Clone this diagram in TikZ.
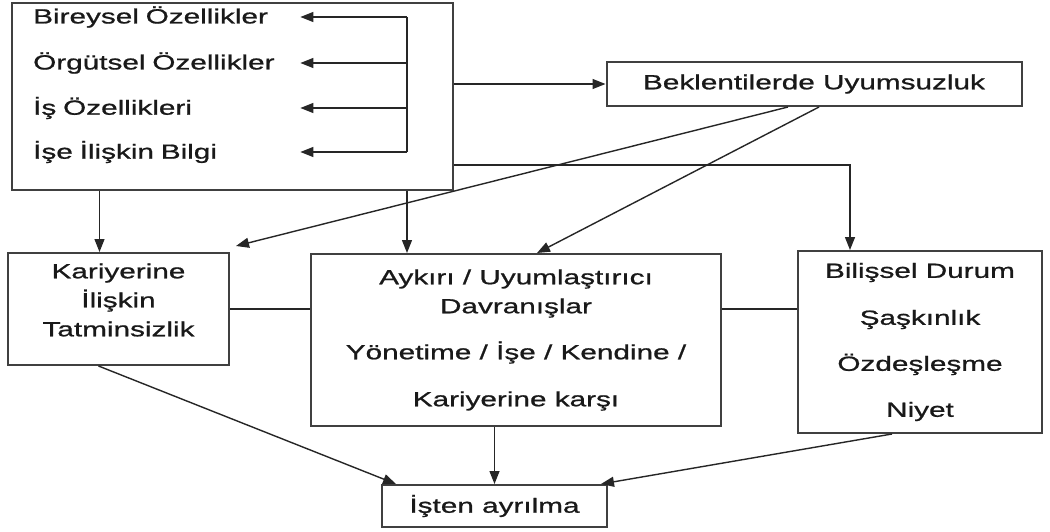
\documentclass[tikz,border=0pt]{standalone}
\usepackage{fontspec}
\setmainfont{Liberation Sans}[FakeStretch=1.45,FakeBold=0.9]
\usetikzlibrary{arrows.meta}

\begin{document}
\begin{tikzpicture}[x=1pt,y=-1pt,
  box/.style={draw=black!75, line width=2pt, inner sep=0pt},
  txt/.style={font=\fontsize{20.5}{29}\selectfont, text=black!90, align=center, inner sep=0pt},
  arr/.style={-{Triangle[length=13pt,width=10pt]}},
  link/.style={line width=1.4pt, draw=black!85}]
\fill[white] (0,0) rectangle (1050,532);
\node[box, minimum width=441pt, minimum height=187pt] (src) at (232.5,96.5) {};
\foreach \i/\y/\t in {1/17/Bireysel Özellikler, 2/63/Örgütsel Özellikler, 3/108/İş Özellikleri, 4/152/İşe İlişkin Bilgi} {
  \node[txt, align=left, anchor=west, text width=267pt] (f\i) at (33,\y) {\t};
  \coordinate (b\i) at (407,\y);
  \draw[link, arr] (b\i) -- (f\i.east);
}
\draw[link] (b1) -- (b4);
\node[box, txt, minimum width=415pt, minimum height=44pt] (bek) at (814,84) {Beklentilerde Uyumsuzluk};
\node[box, minimum width=221pt, minimum height=112pt] (kar) at (118.5,309) {};
\node[txt] (kartxt) at (118.5,300) {Kariyerine\\ İlişkin\\ Tatminsizlik};
\node[box, txt, minimum width=410pt, minimum height=172pt] (ayk) at (516,340) {Aykırı / Uyumlaştırıcı\\ Davranışlar\\[17pt] Yönetime / İşe / Kendine /\\[18pt] Kariyerine karşı};
\node[box, txt, minimum width=244pt, minimum height=182pt] (bil) at (920,342) {Bilişsel Durum\\[18pt] Şaşkınlık\\[17pt] Özdeşleşme\\[17pt] Niyet};
\node[box, txt, minimum width=225pt, minimum height=42pt] (isten) at (494.5,506) {İşten ayrılma};
\path ([xshift=-19pt]kar.north) coordinate (karin) ([xshift=-109pt]ayk.north) coordinate (aykin) ([xshift=-70pt]bil.north) coordinate (bilin);
\draw[link, arr] (src.east |- bek.west) -- (bek.west);
\draw[link, arr] ([yshift=-68.5pt]src.east) -| (bilin);
\draw[link, arr] (src.south -| karin) -- (karin);
\draw[link, arr] (src.south -| aykin) -- (aykin);
\draw[link, arr] ([xshift=-26pt]bek.south) -- ([xshift=6pt,yshift=6pt]kar.north east);
\draw[link, arr] ([xshift=5pt]bek.south) -- ([xshift=21pt]ayk.north);
\draw[link] (kar.east) -- (kar.east -| ayk.west);
\draw[link] (ayk.east |- kar.east) -- (bil.west |- kar.east);
\draw[link, arr] ([xshift=-20pt]kar.south) -- ([xshift=15pt]isten.north west);
\draw[link, arr] (ayk.south -| isten.north) -- (isten.north);
\draw[link, arr] ([xshift=-28pt]bil.south) -- ([xshift=-7pt]isten.north east);
\end{tikzpicture}
\end{document}
